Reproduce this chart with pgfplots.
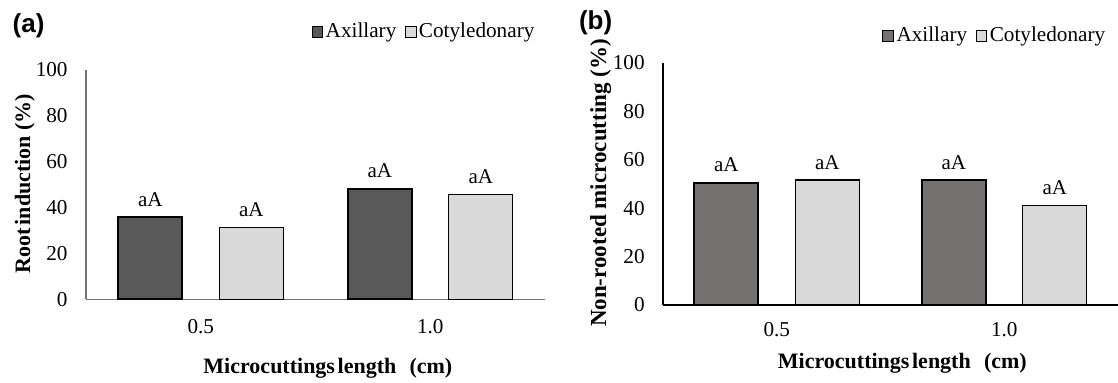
\documentclass[border=0pt]{standalone}
\usepackage{pgfplots}
\pgfplotsset{compat=1.18}
\usepackage{fontspec}
\setmainfont{Liberation Serif}
\newfontfamily\panelfont{Liberation Sans}
\definecolor{darkA}{HTML}{595959}
\definecolor{darkB}{HTML}{767171}
\definecolor{lightbar}{HTML}{D9D9D9}
\pgfplotsset{
  common/.style={
    scale only axis, ybar=18.5pt, bar width=32pt,
    ymin=0, ymax=100, xmin=-0.5, xmax=1.5, enlargelimits=false,
    axis x line=bottom, axis y line=left, axis line style={-},
    xtick={0,1}, xticklabels={0.5,1.0}, ytick={0,20,40,60,80,100},
    major tick length=0pt,
    tick label style={font=\fontsize{10.6}{12}\selectfont},
    /pgf/number format/assume math mode=true,
    yticklabel style={inner sep=0pt, xshift=-9pt},
    xticklabel style={inner sep=0pt},
    label style={font=\bfseries\fontsize{11}{13}\selectfont},
    nodes near coords={aA},
    every node near coord/.append style={font=\fontsize{10.5}{12}\selectfont, inner sep=0pt, yshift=5pt},
    legend columns=2,
    legend style={draw=none, fill=none, inner sep=0pt, font=\fontsize{10.6}{12}\selectfont,
      /tikz/every even column/.append style={column sep=3pt}, nodes={inner sep=1.2pt}},
    legend image code/.code={\draw[#1, line width=0.5pt] (0pt,-2.7pt) rectangle (5.4pt,2.7pt);},
    clip=false,
  }
}
\begin{document}
\begin{tikzpicture}
\path[use as bounding box] (0,0) rectangle (559pt,191pt);
% ---------------- panel (a)
\begin{axis}[common, at={(43pt,41.35pt)}, anchor=south west,
  width=229.5pt, height=114.65pt,
  axis line style={draw=black!55, line width=0.6pt},
  xticklabel style={yshift=-10pt},
  xlabel={Microcuttings\hspace{0.12em}length\hspace{0.6em}(cm)},
  xlabel style={at={(axis description cs:0.527,-0.301)}, anchor=center},
  ylabel={Root\hspace{0.12em}induction (\%)},
  ylabel style={at={(axis description cs:-0.133,0.505)}, anchor=center},
  legend style={at={(axis description cs:0.983,1.166)}, anchor=east},
]
\addplot[fill=darkA, draw=black, line width=0.9pt] coordinates {(0,35.8) (1,48.2)};
\addplot[fill=lightbar, draw=black, line width=0.5pt] coordinates {(0,31.3) (1,45.9)};
\legend{Axillary, Cotyledonary}
\node[font=\panelfont\bfseries\fontsize{13}{15}\selectfont] at (axis description cs:-0.125,1.194) {(a)};
\end{axis}
% ---------------- panel (b)
\begin{axis}[common, at={(331.5pt,38.5pt)}, anchor=south west,
  width=227.5pt, height=121pt,
  axis line style={draw=black, line width=0.9pt},
  xticklabel style={yshift=-8.5pt},
  xlabel={Microcuttings\hspace{0.12em}length\hspace{0.6em}(cm)},
  xlabel style={at={(axis description cs:0.526,-0.240)}, anchor=center},
  ylabel={Non-rooted microcutting (\%)},
  ylabel style={at={(axis description cs:-0.137,0.504)}, anchor=center, font=\bfseries\fontsize{11.5}{13}\selectfont},
  legend style={at={(axis description cs:0.978,1.112)}, anchor=east},
]
\addplot[fill=darkB, draw=black, line width=0.8pt] coordinates {(0,50.5) (1,51.65)};
\addplot[fill=lightbar, draw=black, line width=0.6pt] coordinates {(0,51.65) (1,41.0)};
\legend{Axillary, Cotyledonary}
\node[font=\panelfont\bfseries\fontsize{13}{15}\selectfont] at (axis description cs:-0.148,1.165) {(b)};
\end{axis}
\end{tikzpicture}
\end{document}
